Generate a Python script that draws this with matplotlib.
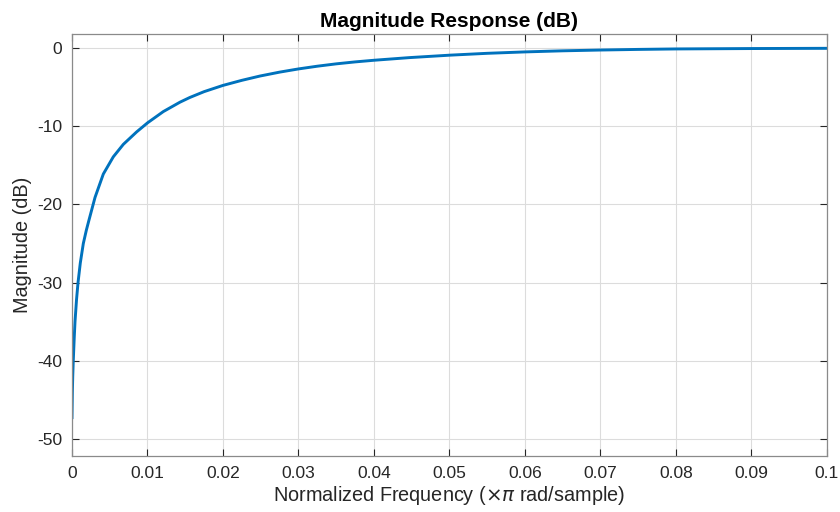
#!/usr/bin/env python3
"""Magnitude response (dB) of a high-pass filter, MATLAB freqz style."""
import matplotlib
matplotlib.use("Agg")
import matplotlib.pyplot as plt

# values (normalized freq, dB)
freq = [0, 0.00005, 0.0001, 0.00017, 0.0003, 0.0004, 0.0006, 0.0008,
        0.0011, 0.0015, 0.0019, 0.00225, 0.00305, 0.00415, 0.00547,
        0.0068, 0.00857, 0.0100, 0.0121, 0.0143, 0.0156, 0.0175, 0.0200,
        0.0225, 0.0249, 0.0275, 0.0300, 0.0325, 0.0350, 0.0375, 0.0400,
        0.0447, 0.050, 0.055, 0.060, 0.065, 0.070, 0.075, 0.080, 0.090,
        0.100]
mag_db = [-47.3, -44.0, -42.0, -40.0, -37.0, -35.0, -32.2, -30.0,
          -27.5, -25.0, -23.3, -22.0, -19.1, -16.1, -13.9,
          -12.3, -10.7, -9.55, -8.1, -6.9, -6.3, -5.55, -4.75,
          -4.1, -3.55, -3.05, -2.64, -2.29, -1.99, -1.74, -1.53,
          -1.19, -0.88, -0.64, -0.46, -0.32, -0.22, -0.14, -0.08, -0.03,
          0.0]

xticks = [0, 0.01, 0.02, 0.03, 0.04, 0.05, 0.06, 0.07, 0.08, 0.09, 0.1]
xticklabels = ["0", "0.01", "0.02", "0.03", "0.04", "0.05", "0.06",
               "0.07", "0.08", "0.09", "0.1"]
yticks = [-50, -40, -30, -20, -10, 0]

plt.rcParams["font.family"] = ["Liberation Sans", "DejaVu Sans"]
plt.rcParams["mathtext.fontset"] = "dejavusans"
plt.rcParams["axes.unicode_minus"] = False

fig = plt.figure(figsize=(8.4, 5.12), dpi=100)
ax = fig.add_axes([0.0857, 0.109, 0.8988, 0.825])

ax.plot(freq, mag_db, color="#0072BD", lw=2.1, solid_joinstyle="round")

ax.set_xlim(0, 0.1)
ax.set_ylim(-52.24, 1.86)
ax.set_xticks(xticks)
ax.set_xticklabels(xticklabels)
ax.set_yticks(yticks)

ax.grid(True, color="#dcdcdc", lw=0.8)
ax.set_axisbelow(True)
ax.tick_params(direction="in", length=5, width=0.8, top=True, right=True,
               colors="#262626", labelsize=12.5, pad=7)
for s in ax.spines.values():
    s.set_color("#8a8a8a")
    s.set_linewidth(0.9)

ax.set_title("Magnitude Response (dB)", fontsize=15, fontweight="bold",
             color="black", pad=5)
ax.set_xlabel(r"Normalized Frequency ($\times\pi$ rad/sample)",
              fontsize=14.3, color="#262626", labelpad=2)
ax.set_ylabel("Magnitude (dB)", fontsize=14.3, color="#262626", labelpad=4)

fig.savefig("out.png", dpi=100)
